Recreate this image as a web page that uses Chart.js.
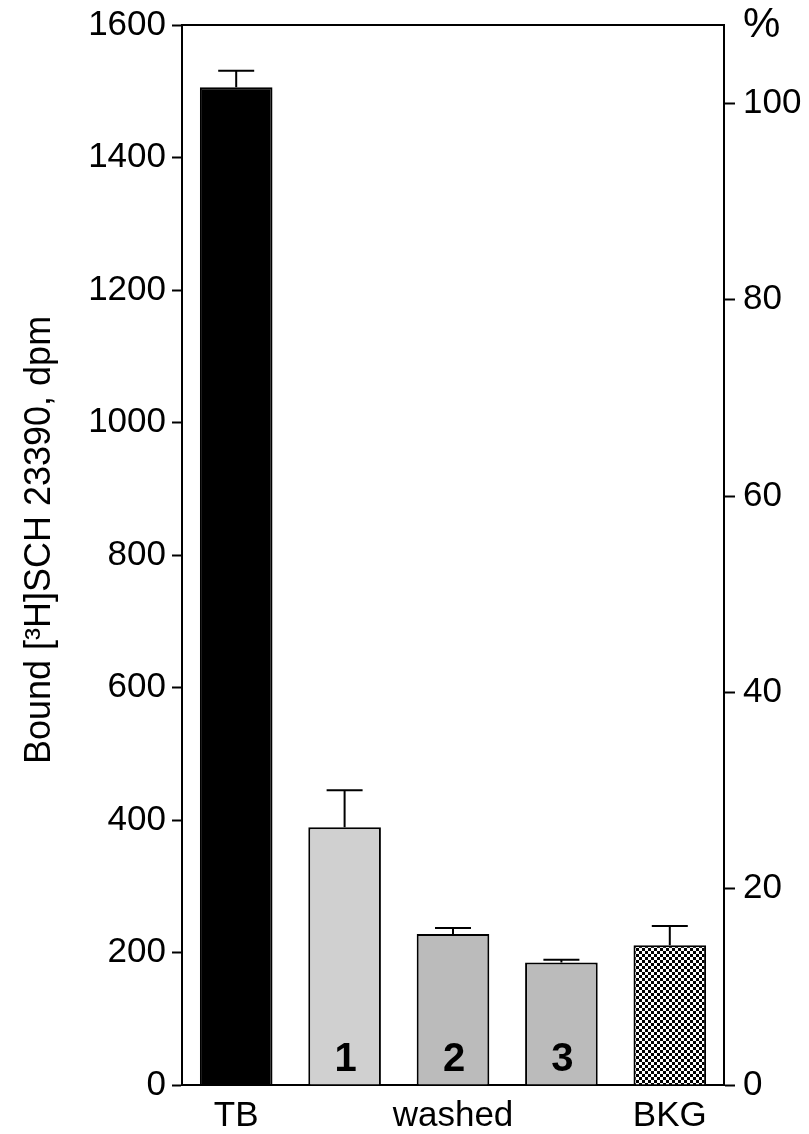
<!DOCTYPE html>
<html>
<head>
<meta charset="utf-8">
<script src="https://cdn.jsdelivr.net/npm/chart.js@4"></script>
<style>
  html, body { margin: 0; padding: 0; background: #fff; }
  #wrap { width: 809px; height: 1134px; }
</style>
</head>
<body>
<div id="wrap"><canvas id="c" width="809" height="1134"></canvas></div>
<script>
// ---- data ----
const categories = ["TB", "", "washed", "", "BKG"];
const boundValues = [1506, 389, 228, 185, 211];
const boundErrors = [25, 56, 9, 4, 29];
const barNumbers = ["", "1", "2", "3", ""];
const leftTicks = [0, 200, 400, 600, 800, 1000, 1200, 1400, 1600];
const rightTicks = [0, 20, 40, 60, 80, 100];
const rightMax = 108;   // 100 % = ~1481 dpm
const rightMaxLabel = "%";
const yTitle = "Bound [³H]SCH 23390, dpm";

// checkered pattern for BKG
function checker() {
  const p = document.createElement('canvas');
  p.width = 6; p.height = 6;
  const g = p.getContext('2d');
  g.fillStyle = '#ffffff'; g.fillRect(0, 0, 6, 6);
  g.fillStyle = '#000000'; g.fillRect(0, 0, 3, 3); g.fillRect(3, 3, 3, 3);
  return g.createPattern(p, 'repeat');
}
const ctx = document.getElementById('c').getContext('2d');
const colors = ['#000000', '#d0d0d0', '#bbbbbb', '#bbbbbb', checker()];

const FONT = "'Liberation Sans', Arial, sans-serif";

const extras = {
  id: 'extras',
  afterDatasetsDraw(chart) {
    const meta = chart.getDatasetMeta(0);
    const y = chart.scales.y;
    const c = chart.ctx;
    c.save();
    c.strokeStyle = '#000';
    c.lineWidth = 2;
    meta.data.forEach((bar, i) => {
      const top = y.getPixelForValue(boundValues[i] + boundErrors[i]);
      c.beginPath();
      c.moveTo(bar.x, bar.y);
      c.lineTo(bar.x, top);
      c.moveTo(bar.x - 18, top);
      c.lineTo(bar.x + 18, top);
      c.stroke();
    });
    // numbers inside bars
    c.fillStyle = '#000';
    c.font = "bold 40px " + FONT;
    c.textAlign = 'center';
    c.textBaseline = 'alphabetic';
    const base = y.getPixelForValue(0);
    meta.data.forEach((bar, i) => {
      if (barNumbers[i]) c.fillText(barNumbers[i], bar.x + 1, base - 14);
    });
    c.restore();
  },
  afterDraw(chart) {
    // left axis title
    const c = chart.ctx;
    const a = chart.chartArea;
    c.save();
    c.translate(50, (a.top + a.bottom) / 2 - 15);
    c.rotate(-Math.PI / 2);
    c.fillStyle = '#000';
    c.font = "36px " + FONT;
    c.textAlign = 'center';
    c.textBaseline = 'alphabetic';
    c.fillText(yTitle, 0, 0);
    c.restore();
  }
};

function noPadV(s) { s.paddingTop = 0; s.paddingBottom = 0; }
function noPadH(s) { s.paddingLeft = 0; s.paddingRight = 0; }

new Chart(ctx, {
  type: 'bar',
  data: {
    labels: categories,
    datasets: [{
      data: boundValues,
      backgroundColor: colors,
      borderColor: '#000',
      borderWidth: 2,
      borderSkipped: 'bottom',
      barPercentage: 0.67,
      categoryPercentage: 1.0,
      yAxisID: 'y'
    }]
  },
  options: {
    responsive: false,
    animation: false,
    devicePixelRatio: 1,
    layout: { padding: { top: 25, left: 0, right: 0, bottom: 0 } },
    plugins: { legend: { display: false }, tooltip: { enabled: false } },
    scales: {
      x: {
        position: 'bottom',
        grid: { display: false },
        border: { display: true, color: '#000', width: 2 },
        ticks: { color: '#000', font: { family: FONT, size: 35 }, padding: 2, maxRotation: 0, autoSkip: false },
        afterFit(s) { s.height = 49; noPadH(s); }
      },
      xTop: {
        position: 'top',
        grid: { display: false },
        border: { display: true, color: '#000', width: 2 },
        ticks: { display: false },
        afterFit(s) { s.height = 0; noPadH(s); }
      },
      y: {
        position: 'left',
        min: 0, max: 1600,
        afterBuildTicks(s) { s.ticks = leftTicks.map(v => ({ value: v })); },
        grid: { drawOnChartArea: false, drawTicks: true, tickLength: 10, tickWidth: 2, tickColor: '#000' },
        border: { display: true, color: '#000', width: 2 },
        ticks: { color: '#000', font: { family: FONT, size: 35 }, padding: 6, callback: (v) => String(v) },
        afterFit(s) { s.width = 182; noPadV(s); }
      },
      y1: {
        position: 'right',
        min: 0, max: rightMax,
        afterBuildTicks(s) {
          s.ticks = rightTicks.map(v => ({ value: v })).concat([{ value: rightMax }]);
        },
        grid: {
          drawOnChartArea: false, drawTicks: true, tickLength: 11, tickWidth: 2,
          tickColor: (c) => (c.tick && c.tick.value === rightMax) ? 'rgba(0,0,0,0)' : '#000'
        },
        border: { display: true, color: '#000', width: 2 },
        ticks: {
          color: '#000', padding: 8,
          font: (c) => ({ family: FONT, size: (c.tick && c.tick.value === rightMax) ? 42 : 35 }),
          callback: (v) => v === rightMax ? rightMaxLabel : String(v)
        },
        afterFit(s) { s.width = 85; noPadV(s); }
      }
    }
  },
  plugins: [extras]
});
</script>
</body>
</html>
